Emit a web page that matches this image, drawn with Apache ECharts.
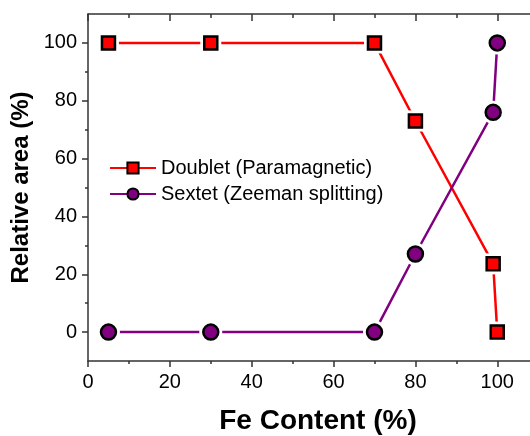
<!DOCTYPE html>
<html><head><meta charset="utf-8">
<script src="https://cdn.jsdelivr.net/npm/echarts@6/dist/echarts.min.js"></script>
<style>html,body{margin:0;padding:0;background:#fff}#c{width:530px;height:436px}</style>
</head><body><div id="c"></div>
<script>
const feContent = [5, 30, 70, 80, 99, 100];
const doublet = [100, 100, 100, 73, 23.6, 0];
const sextet = [0, 0, 0, 27, 76, 100];
const xMajor = [0, 20, 40, 60, 80, 100];
const xMinor = [10, 30, 50, 70, 90];
const yMajor = [0, 20, 40, 60, 80, 100];
const yMinor = [10, 30, 50, 70, 90];
const names = ['Doublet (Paramagnetic)', 'Sextet (Zeeman splitting)'];

const font = 'Liberation Sans, Arial, sans-serif';
const axisColor = '#333';
const pts = (ys) => feContent.map((x, i) => [x, ys[i]]);

function xAx(pos, ticks, len, inside, line, labels) {
  return {
    type: 'value', position: pos, min: 0, max: 108, interval: 20,
    axisLine: { show: line, onZero: false, lineStyle: { color: axisColor, width: 1.5 } },
    axisTick: { show: true, customValues: ticks, length: len, inside: inside, lineStyle: { color: axisColor, width: 1.5 } },
    axisLabel: labels ? { show: true, customValues: xMajor, fontSize: 20, fontFamily: font, color: '#000', margin: 11 } : { show: false },
    splitLine: { show: false }
  };
}
function yAx(ticks, len, line, labels) {
  return {
    type: 'value', position: 'left', min: -10, max: 110, interval: 10,
    axisLine: { show: line, onZero: false, lineStyle: { color: axisColor, width: 1.5 } },
    axisTick: { show: true, customValues: ticks, length: len, inside: false, lineStyle: { color: axisColor, width: 1.5 } },
    axisLabel: labels ? { show: true, customValues: yMajor, fontSize: 20, fontFamily: font, color: '#000', margin: 11 } : { show: false },
    splitLine: { show: false }
  };
}

const xAxes = [
  xAx('bottom', xMajor, 6, false, true, true),
  xAx('bottom', xMinor, 3, false, false, false),
  xAx('top', xMajor, 7, true, true, false),
  xAx('top', xMinor, 4, true, false, false)
];
Object.assign(xAxes[0], {
  name: 'Fe Content (%)', nameLocation: 'middle', nameGap: 46,
  nameTextStyle: { fontSize: 28, fontWeight: 'bold', fontFamily: font, color: '#000', padding: [0, 0, 0, 18] }
});
const yAxes = [yAx(yMajor, 6, true, true), yAx(yMinor, 3, false, false)];
Object.assign(yAxes[0], {
  name: 'Relative area (%)', nameLocation: 'middle', nameGap: 55, nameMoveOverlap: false,
  nameTextStyle: { fontSize: 24, fontWeight: 'bold', fontFamily: font, color: '#000' }
});

const colors = ['#FF0000', '#800080'];
const symbols = ['rect', 'circle'];
const sizes = [13, 15];
const datas = [doublet, sextet];
const series = [];
for (let k = 0; k < 2; k++) {
  series.push({
    name: names[k], type: 'line', data: pts(datas[k]), z: 2, zlevel: 0,
    symbol: symbols[k], symbolSize: sizes[k], showSymbol: true,
    lineStyle: { color: colors[k], width: 2.5 },
    itemStyle: { color: colors[k], borderColor: '#000', borderWidth: 2.5 },
    emphasis: { disabled: true }, animation: false
  });
  series.push({
    name: 'halo' + k, type: 'scatter', data: pts(datas[k]), z: 3, zlevel: 1,
    symbol: symbols[k], symbolSize: sizes[k] + 8,
    itemStyle: { color: '#ffffff', opacity: 1 }, silent: true, animation: false
  });
  series.push({
    name: 'mark' + k, type: 'scatter', data: pts(datas[k]), z: 4, zlevel: 2,
    symbol: symbols[k], symbolSize: sizes[k],
    itemStyle: { color: colors[k], borderColor: '#000', borderWidth: 2.5, opacity: 1 }, silent: true, animation: false
  });
}

const chart = echarts.init(document.getElementById('c'), null, { renderer: 'canvas' });
chart.setOption({
  animation: false,
  grid: { left: 88, right: 0, top: 14, bottom: 75, containLabel: false, outerBoundsMode: 'none' },
  xAxis: xAxes,
  yAxis: yAxes,
  legend: {
    data: names, orient: 'vertical', left: 104, top: 153,
    itemWidth: 46, itemHeight: 14, itemGap: 6,
    textStyle: { fontSize: 20, fontFamily: font, color: '#000' }
  },
  series: series
});
</script></body></html>
